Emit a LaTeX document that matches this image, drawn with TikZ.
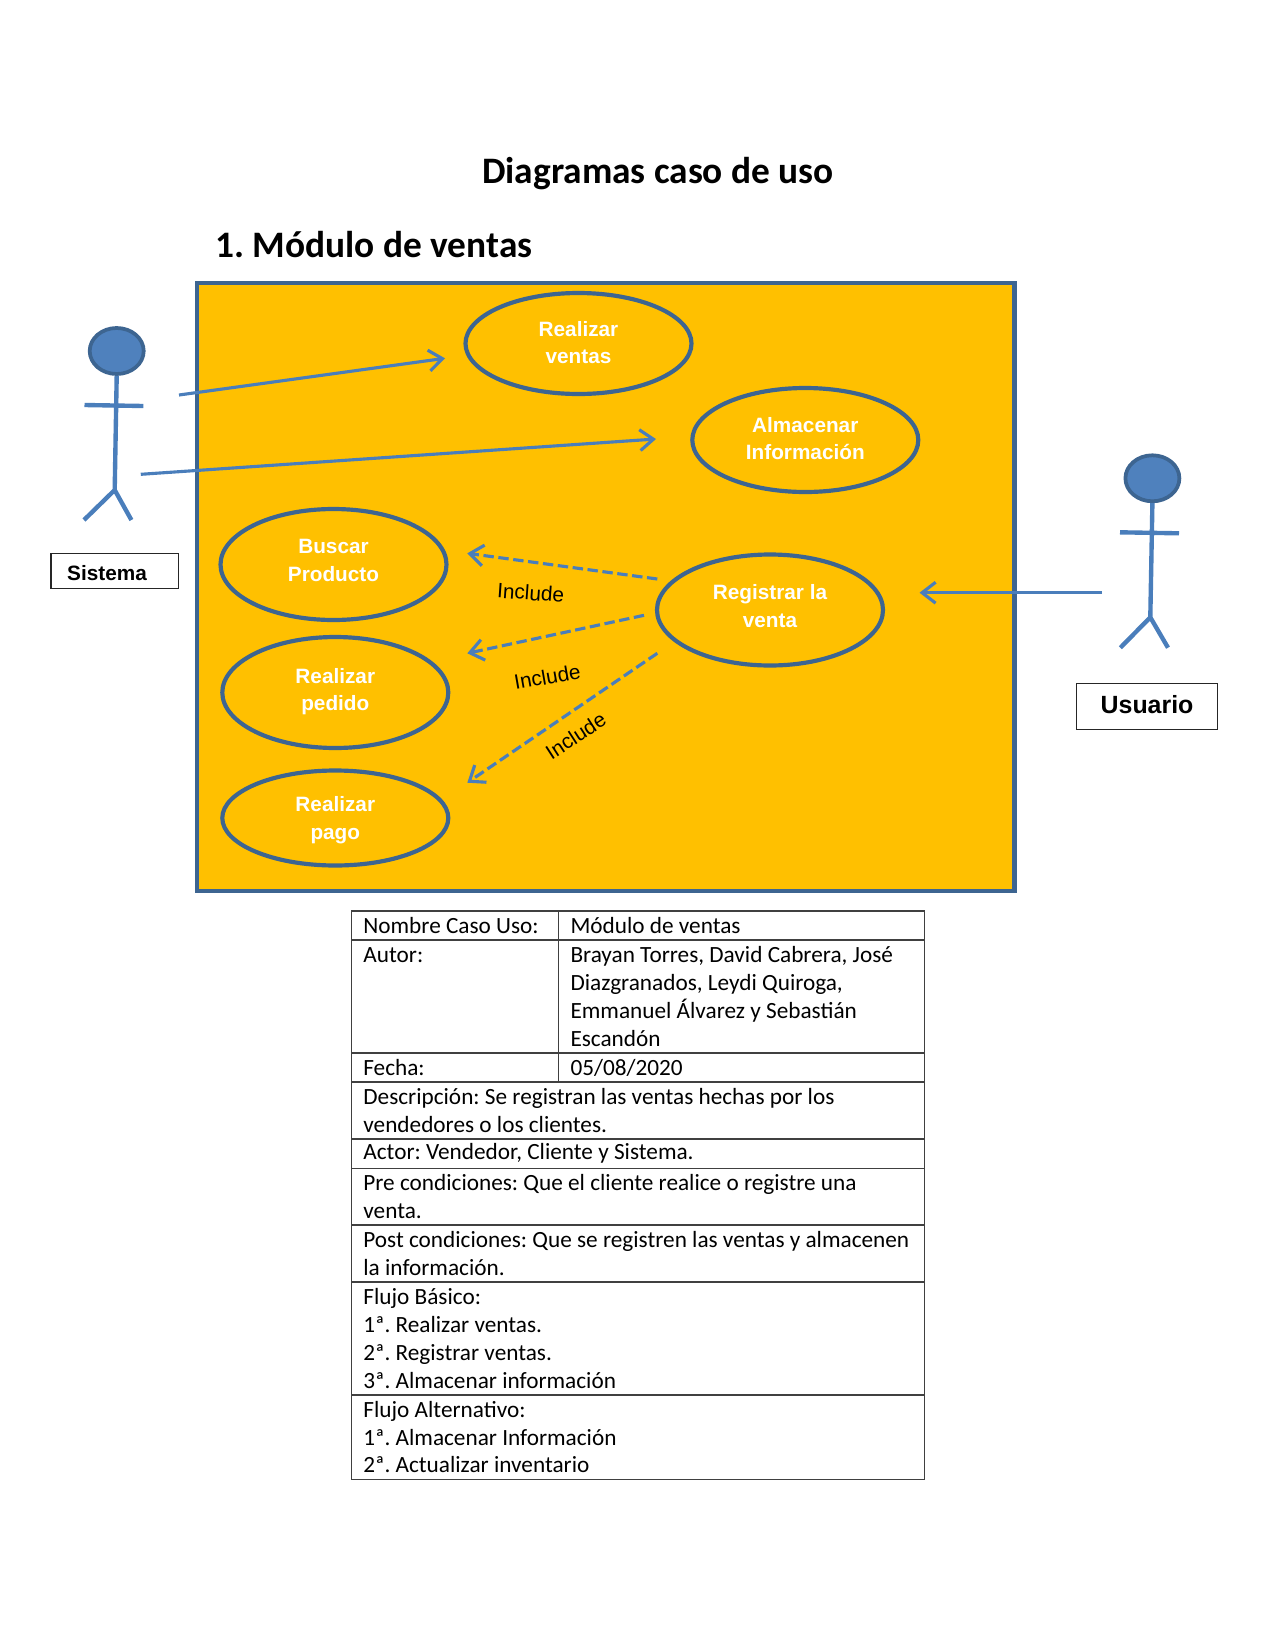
\documentclass[tikz,border=0pt]{standalone}
\usepackage{fontspec}
\setmainfont{Carlito}
\newfontfamily\arialfont{Liberation Sans}
\usetikzlibrary{arrows.meta,positioning,shapes.geometric}
\definecolor{naranja}{HTML}{FFC000}
\definecolor{azul}{HTML}{4F81BD}
\definecolor{azullinea}{HTML}{4A7EBB}
\definecolor{azulborde}{HTML}{3D6591}
\def\px{0.48bp}
\frenchspacing
\begin{document}
\begin{tikzpicture}[x=0.48bp,y=-0.48bp,on grid,>={Straight Barb[length=6.5bp,width=10bp]},
  casouso/.style={ellipse,draw=azulborde,line width=2bp,inner sep=0pt,minimum width=226*\px,
    align=center,text=white,font=\arialfont\bfseries\fontsize{10}{13.4}\selectfont},
  cabeza/.style={ellipse,draw=azulborde,fill=azul,line width=1.8bp,inner sep=0pt,
    minimum width=54*\px,minimum height=46*\px},
  palo/.style={draw=azullinea,line width=2.1bp},
  flecha/.style={draw=azullinea,line width=1.5bp},
  actor/.style={draw=black!85,line width=.6bp,inner sep=0pt,text=black,font=\arialfont\bfseries},
  include/.style={font=\arialfont\fontsize{10}{12}\selectfont,inner sep=0pt},
  fila/.style={draw=black!75,line width=.5bp,anchor=north west,outer sep=0pt,inner ysep=0pt,
    inner xsep=12*\px,align=flush left,text width=548.9*\px,font=\fontsize{11.2}{13.4}\selectfont},
  col1/.style={fila,text width=183.1*\px},
  col2/.style={fila,text width=341.8*\px}]
  \useasboundingbox (0,0) rectangle (1275,1650);

  \node[font=\bfseries\fontsize{18}{22}\selectfont] (titulo) at (658,174) {Diagramas caso de uso};
  \node[font=\bfseries\fontsize{18}{22}\selectfont,anchor=west] (modulo) at (208,245) {1. M\'odulo de ventas};

  \node[draw=azulborde,fill=naranja,line width=2.2bp,anchor=north west,inner sep=0pt,
    minimum width=817.5*\px,minimum height=608*\px] (sistemabox) at (194.5,280.5) {};

  \node[casouso,minimum height=101*\px,text depth=1pt] (ventas) at (578.5,343.5) {Realizar\\ventas};
  \node[casouso,minimum height=104*\px,text depth=1.5pt] (almacenar) [below right=96.5*\px and 226.8*\px of ventas] {Almacenar\\Informaci\'on};
  \node[casouso,minimum height=111*\px,text depth=4pt] (registrar) at (770,610) {Registrar la\\venta};
  \node[casouso,minimum height=111*\px,text depth=4pt] (buscar) at (333.5,564.5) {Buscar\\Producto};
  \node[casouso,minimum height=111*\px,text depth=3pt] (pedido) [below right=128*\px and 1.8*\px of buscar] {Realizar\\pedido};
  \node[casouso,minimum height=95*\px,text depth=0pt] (pago) [below=125.5*\px of pedido] {Realizar\\pago};

  % actores
  \node[cabeza] (sistema) at (116.7,351) {};
  \coordinate (sistemapie) at (114.7,490);
  \draw[palo] (sistema.south) -- (sistemapie) (84.5,405) -- (143.3,406)
    (84,520) -- (sistemapie) -- (131.4,520);
  \node[actor,font=\arialfont\bfseries\fontsize{10}{12}\selectfont,text width=94.8*\px,text height=9pt,
    align=left,minimum height=35*\px,inner xsep=16.3*\px,anchor=north west] (etiquetasistema) at (50.3,552.7) {Sistema};

  \node[cabeza] (usuario) at (1152.4,478.3) {};
  \coordinate (usuariopie) at (1150.3,617.3);
  \draw[palo] (usuario.south) -- (usuariopie) (1120,532.3) -- (1179,533.3)
    (1120.4,647.7) -- (usuariopie) -- (1168,647.7);
  \node[actor,font=\arialfont\bfseries\fontsize{12}{14}\selectfont,minimum width=141.2*\px,text depth=2pt,
    minimum height=46.3*\px,anchor=north west] (etiquetausuario) at (1075.8,682.7) {Usuario};

  % puntas libres de las flechas
  \coordinate (s1) at (179,395);
  \coordinate (v1) at (445,358.3);
  \coordinate (s2) at (140.8,474.3);
  \coordinate (a1) at (656,439);
  \coordinate (u1) at (1102,592.7);
  \coordinate (r0) at (919.5,592.7);
  \coordinate (r1) at (657.3,579);
  \coordinate (b1) at (467.3,553.3);
  \coordinate (r2) at (644,615.3);
  \coordinate (p1) at (467.3,653.3);
  \coordinate (r3) at (657.3,653.3);
  \coordinate (g1) at (467.3,782.7);

  \path[->]
    (s1) edge[flecha] (v1)
    (s2) edge[flecha] (a1)
    (u1) edge[flecha] (r0);
  \path[->]
    (r1) edge[flecha,dash pattern=on 5bp off 2.2bp] (b1)
    (r2) edge[flecha,dash pattern=on 5bp off 2.2bp] (p1)
    (r3) edge[flecha,dash pattern=on 5bp off 2.2bp] (g1);

  \node[include,rotate=-4] (inc1) at (530.7,592.7) {Include};
  \node[include,rotate=10] (inc2) at (547.3,676.7) {Include};
  \node[include,rotate=33] (inc3) at (575.7,735.7) {Include};

  % tabla
  \node[col1,minimum height=29*\px] (nombre) at (351.4,911) {Nombre Caso Uso:};
  \node[col2,minimum height=29*\px] (nombrev) at (nombre.north east) {M\'odulo de ventas};
  \node[col1,minimum height=113*\px] (autor) at (nombre.south west) {Autor:\\\mbox{}\\\mbox{}\\\mbox{}};
  \node[col2,minimum height=113*\px] (autorv) at (autor.north east) {Brayan Torres, David Cabrera, Jos\'e\\Diazgranados, Leydi Quiroga,\\Emmanuel \'Alvarez y Sebasti\'an\\Escand\'on};
  \node[col1,minimum height=29*\px] (fecha) at (autor.south west) {Fecha:};
  \node[col2,minimum height=29*\px] (fechav) at (fecha.north east) {05/08/2020};
  \node[fila,minimum height=57*\px] (descripcion) at (fecha.south west) {Descripci\'on: Se registran las ventas hechas por los\\vendedores o los clientes.};
  \node[fila,minimum height=29.3*\px] (actores) at (descripcion.south west) {Actor: Vendedor, Cliente y Sistema.};
  \node[fila,minimum height=56.7*\px] (pre) at (actores.south west) {Pre condiciones: Que el cliente realice o registre una\\venta.};
  \node[fila,minimum height=57*\px] (post) at (pre.south west) {Post condiciones: Que se registren las ventas y almacenen\\la informaci\'on.};
  \node[fila,minimum height=113*\px] (basico) at (post.south west) {Flujo B\'asico:\\1ª. Realizar ventas.\\2ª. Registrar ventas.\\3ª. Almacenar informaci\'on};
  \node[fila,minimum height=84.3*\px] (alterno) at (basico.south west) {Flujo Alternativo:\\1ª. Almacenar Informaci\'on\\2ª. Actualizar inventario};
\end{tikzpicture}
\end{document}
